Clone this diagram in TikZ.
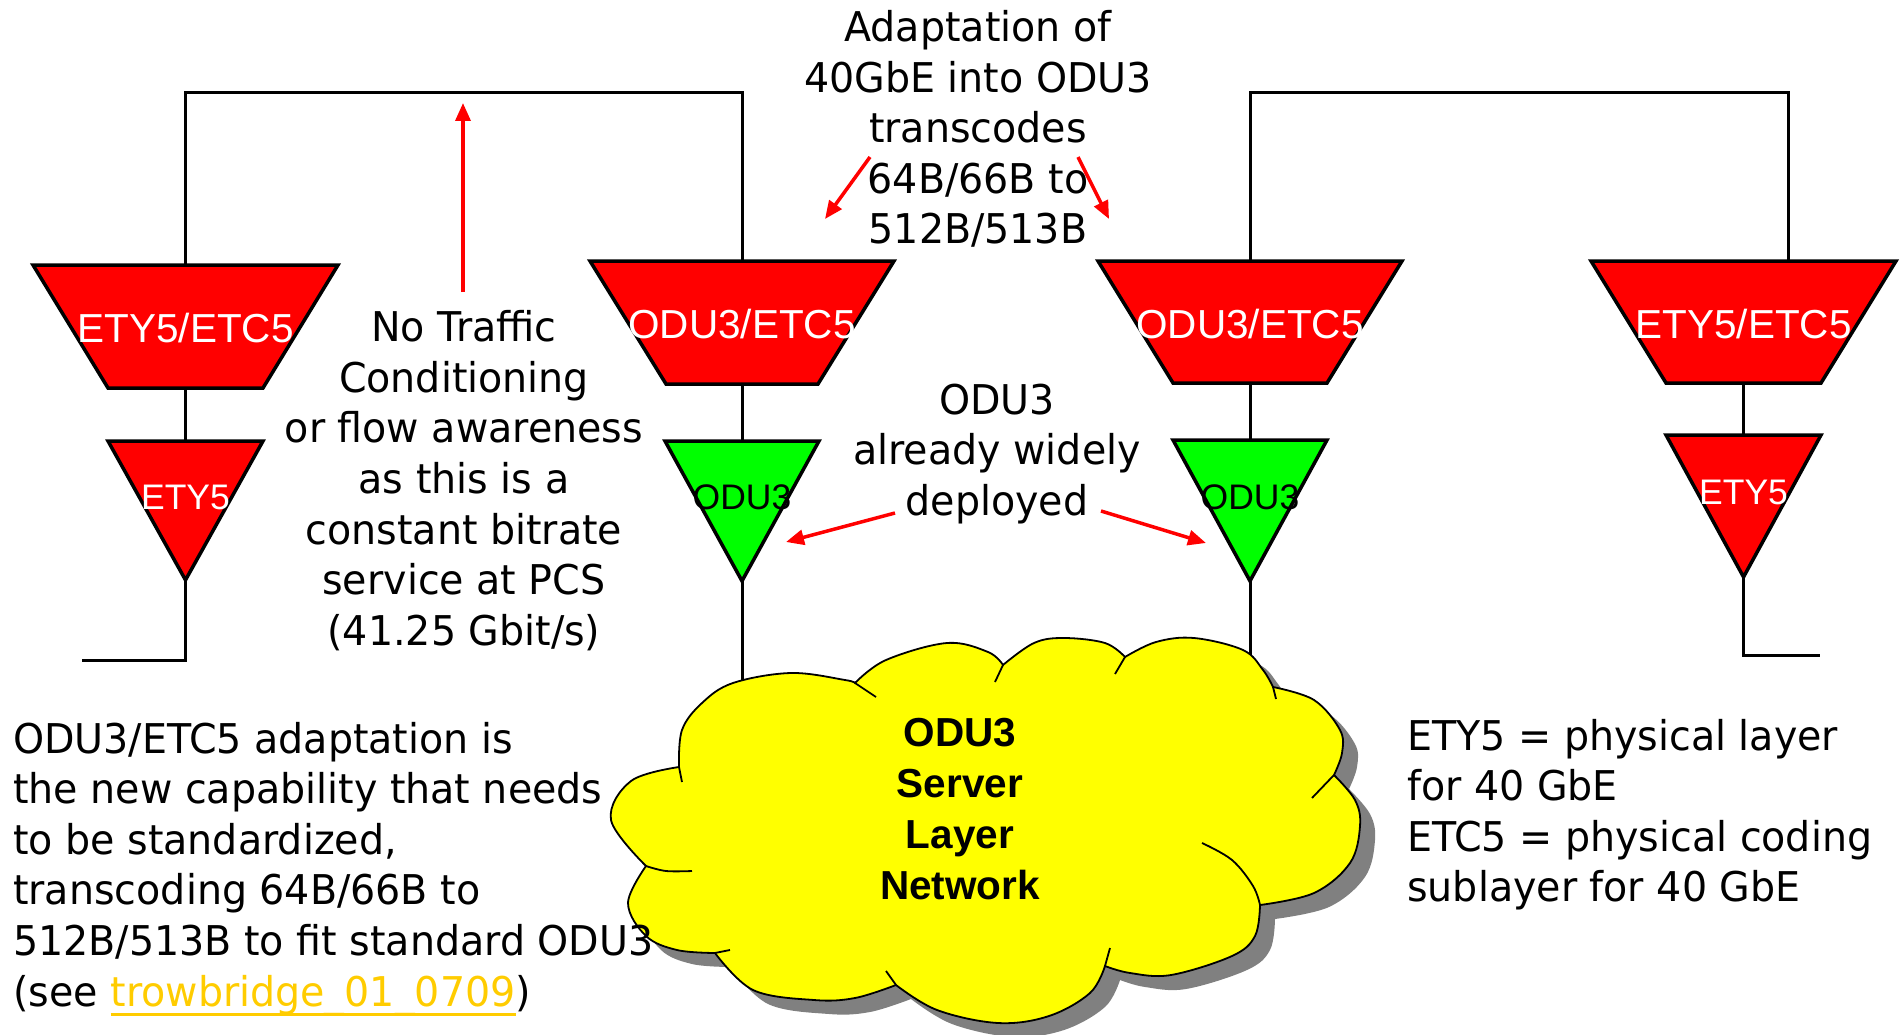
\documentclass[tikz,border=0pt]{standalone}
\usepackage{fontspec}
\setmainfont{DejaVu Sans}[FakeStretch=0.965]
\newfontfamily\labfont{Liberation Sans}
\usetikzlibrary{arrows.meta}
\definecolor{ared}{RGB}{255,0,0}
\definecolor{agreen}{RGB}{0,255,0}
\definecolor{ayellow}{RGB}{255,255,0}
\definecolor{ashadow}{RGB}{128,128,128}
\definecolor{alink}{RGB}{255,204,0}
\newcommand\lnktxt[1]{\setbox0\hbox{{\color{alink}#1}}\rlap{{\color{alink}\rule[-10pt]{\wd0}{3pt}}}\box0}
\begin{document}
\begin{tikzpicture}[x=1pt,y=-1pt,
  wire/.style={draw=black,line width=3pt},
  redshape/.style={draw=black,line width=3.5pt,fill=ared},
  greenshape/.style={draw=black,line width=3.5pt,fill=agreen},
  redarrow/.style={draw=ared,line width=3.5pt,-{Triangle[length=18pt,width=15pt]}},
  biglab/.style={inner sep=0pt,anchor=base,text=white,font=\labfont\fontsize{40.5}{45}\selectfont},
  smalllab/.style={inner sep=0pt,anchor=base,font=\labfont\fontsize{35.5}{40}\selectfont},
  txt/.style={inner sep=0pt,font=\fontsize{41}{50.6}\selectfont},
  cloudline/.style={draw=black,line width=1.8pt},
  cloudp/.style={insert path={
    plot[smooth,tension=0.6] coordinates{(646,866)(611,820)(631,781)(679,767)}
    -- plot[smooth,tension=0.6] coordinates{(679,767)(682,730)(702,703)(733,683)(791,673)(845,680)(855,683)}
    -- plot[smooth,tension=0.6] coordinates{(855,683)(886,660)(947,643)(988,652)(1003,665)}
    -- plot[smooth,tension=0.6] coordinates{(1003,665)(1034,643)(1064,638)(1105,643)(1125,657)}
    -- plot[smooth,tension=0.6] coordinates{(1125,657)(1156,642)(1194,638)(1243,650)(1263,670)(1273,687)}
    -- plot[smooth,tension=0.6] coordinates{(1273,687)(1314,700)(1340,730)(1342,753)(1334,775)}
    -- plot[smooth,tension=0.6] coordinates{(1334,775)(1355,800)(1360,826)(1350,863)(1314,893)(1260,905)}
    -- plot[smooth,tension=0.6] coordinates{(1260,905)(1255,936)(1232,956)(1171,975)(1130,973)(1105,966)}
    -- plot[smooth,tension=0.6] coordinates{(1105,966)(1090,993)(1049,1016)(998,1023)(937,1010)(896,985)}
    -- plot[smooth,tension=0.6] coordinates{(896,985)(855,998)(814,1000)(753,990)(715,953)}
    -- plot[smooth,tension=0.6] coordinates{(715,953)(677,950)(646,936)(628,903)(646,866)}
    -- cycle}}
]
\useasboundingbox (0,0) rectangle (1902,1035);

% ---- shapes ----
% left ETY5/ETC5
\draw[redshape] (33,265) -- (338,265) -- (263,388) -- (108,388) -- cycle;
\coordinate (e1top) at (185.5,265);
\coordinate (e1bot) at (185.5,388);
% left ETY5 triangle
\draw[redshape] (108,441) -- (263,441) -- (185.5,580) -- cycle;
\coordinate (y1top) at (185.5,441);
\coordinate (y1apex) at (185.5,580);
% left ODU3/ETC5
\draw[redshape] (590,261) -- (894,261) -- (818,384) -- (666,384) -- cycle;
\coordinate (o1top) at (742,261);
\coordinate (o1bot) at (742,384);
% left ODU3 triangle
\draw[greenshape] (665,441) -- (819,441) -- (742,581) -- cycle;
\coordinate (g1top) at (742,441);
\coordinate (g1apex) at (742,581);
% right ODU3/ETC5
\draw[redshape] (1098,261) -- (1402,261) -- (1327,383) -- (1173,383) -- cycle;
\coordinate (o2top) at (1250,261);
\coordinate (o2bot) at (1250,383);
% right ODU3 triangle
\draw[greenshape] (1173,440) -- (1327,440) -- (1250,581) -- cycle;
\coordinate (g2top) at (1250,440);
\coordinate (g2apex) at (1250,581);
% right ETY5/ETC5
\draw[redshape] (1591,261) -- (1896,261) -- (1821,383) -- (1666,383) -- cycle;
\coordinate (e2top) at (1788,261);
\coordinate (e2bot) at (1743.5,383);
% right ETY5 triangle
\draw[redshape] (1666,435) -- (1821,435) -- (1743.5,577) -- cycle;
\coordinate (y2top) at (1743.5,435);
\coordinate (y2apex) at (1743.5,577);

% ---- shape labels ----
\node[biglab] (le1) at (185.5,342.5) {ETY5/ETC5};
\node[biglab] (lo1) at (742,338.5) {ODU3/ETC5};
\node[biglab] (lo2) at (1250,338) {ODU3/ETC5};
\node[biglab] (le2) at (1743.5,338) {ETY5/ETC5};
\node[smalllab,text=white] (ly1) at (185.5,509) {ETY5};
\node[smalllab,text=black] (lg1) at (742,509) {ODU3};
\node[smalllab,text=black] (lg2) at (1250,509) {ODU3};
\node[smalllab,text=white] (ly2) at (1743.5,504) {ETY5};

% ---- wires ----
\coordinate (bl1) at (185.5,93);
\coordinate (bl2) at (742,93);
\coordinate (br1) at (1250,93);
\coordinate (br2) at (1788,93);
\draw[wire] (e1top) -- (bl1) -- (bl2) -- (o1top);
\draw[wire] (o2top) -- (br1) -- (br2) -- (e2top);
\draw[wire] (e1bot) -- (y1top);
\draw[wire] (o1bot) -- (g1top);
\draw[wire] (o2bot) -- (g2top);
\draw[wire] (e2bot) -- (y2top);
\coordinate (lend1) at (185.5,660);
\coordinate (lend2) at (82,660);
\coordinate (rend1) at (1743.5,655);
\coordinate (rend2) at (1820,655);
\draw[wire] (y1apex) -- (lend1) -- (lend2);
\draw[wire] (y2apex) -- (rend1) -- (rend2);
\coordinate (c1in) at (742,710);
\coordinate (c2in) at (1250,710);
\draw[wire] (g1apex) -- (c1in);
\draw[wire] (g2apex) -- (c2in);

% ---- cloud ----
\fill[ashadow,shift={(15,14)},cloudp];
\path[fill=ayellow,draw=black,line width=1.8pt,cloudp];
\draw[cloudline] (679,767) -- (682,782);
\draw[cloudline] (855,683) -- (876,697);
\draw[cloudline] (1003,665) -- (995,682);
\draw[cloudline] (1125,657) -- (1115,674);
\draw[cloudline] (1273,687) -- (1276,699);
\draw[cloudline] (1334,775) -- (1312,798);
\draw[cloudline] plot[smooth,tension=0.6] coordinates{(1202,843)(1232,860)(1253,886)(1260,905)};
\draw[cloudline] (1110,948) -- (1105,966);
\draw[cloudline] (886,971) -- (896,985);
\draw[cloudline] (730,950) -- (715,953);
\draw[cloudline] plot[smooth,tension=0.6] coordinates{(646,866)(666,871)(692,871)};
\node[inner sep=0pt,anchor=base,font=\labfont\bfseries\fontsize{40.5}{51}\selectfont] (cloudtxt) at (960,746.7)
  {\parbox[t]{300pt}{\centering ODU3\\Server\\Layer\\Network}};

% ---- texts ----
\node[txt,anchor=base] (notraffic) at (464,341.7)
  {\parbox[t]{500pt}{\centering No Traffic\\Conditioning\\or flow awareness\\as this is a\\constant bitrate\\service at PCS\\(41.25 Gbit/s)}};
\node[txt,anchor=base] (adapt) at (978,41.5)
  {\parbox[t]{500pt}{\centering Adaptation of\\40GbE into ODU3\\transcodes\\64B/66B to\\512B/513B}};
\node[txt,anchor=base] (deployed) at (997,414)
  {\parbox[t]{500pt}{\centering ODU3\\already widely\\deployed}};
\node[txt,anchor=base west] (newcap) at (13,753)
  {\parbox[t]{800pt}{\raggedright ODU3/ETC5 adaptation is\\the new capability that needs\\to be standardized,\\transcoding 64B/66B to\\512B/513B to fit standard ODU3\\(see \lnktxt{trowbridge\_01\_0709})}};
\node[txt,anchor=base west] (defs) at (1407,750)
  {\parbox[t]{500pt}{\raggedright ETY5 = physical layer\\for 40 GbE\\ETC5 = physical coding\\sublayer for 40 GbE}};

% ---- red arrows ----
\coordinate (a1s) at (463,292);
\coordinate (a1e) at (463,103);
\draw[redarrow] (a1s) -- (a1e);
\coordinate (a2s) at (870,157);
\coordinate (a2e) at (825,219);
\draw[redarrow] (a2s) -- (a2e);
\coordinate (a3s) at (1078,157);
\coordinate (a3e) at (1109,219);
\draw[redarrow] (a3s) -- (a3e);
\coordinate (a4s) at (895,513);
\coordinate (a4e) at (786,542);
\draw[redarrow] (a4s) -- (a4e);
\coordinate (a5s) at (1101,511);
\coordinate (a5e) at (1206,543);
\draw[redarrow] (a5s) -- (a5e);
\end{tikzpicture}
\end{document}
